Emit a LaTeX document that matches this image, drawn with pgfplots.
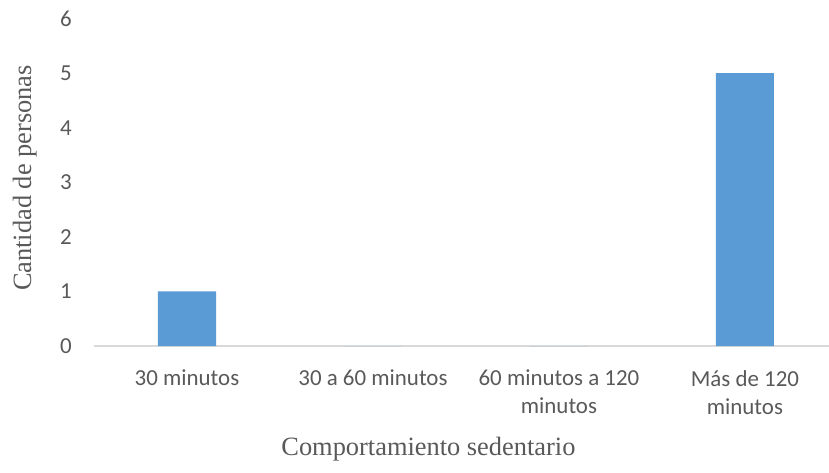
\documentclass[border=0pt]{standalone}
\usepackage{pgfplots}
\pgfplotsset{compat=1.18}
\usepackage{fontspec}
\setmainfont{Liberation Serif}
\newfontfamily\tickfont{Carlito}
\definecolor{barblue}{HTML}{5B9BD5}
\definecolor{textgray}{HTML}{595959}
\definecolor{axisgray}{HTML}{D9D9D9}
\begin{document}
\begin{tikzpicture}
\useasboundingbox (-94bp,-127bp) rectangle (735bp,346bp);
\begin{axis}[
  at={(0,0)}, anchor=south west,
  scale only axis,
  width=735bp, height=327.4bp,
  xmin=-0.5, xmax=3.452,
  ymin=0, ymax=6,
  ytick={0,1,...,6},
  xtick={0,1,2,3},
  xticklabels={30 minutos, 30 a 60 minutos, {60 minutos a 120\\minutos}, {Más de 120\\minutos}},
  axis line style={draw=none},
  major tick length=0pt,
  /pgf/number format/assume math mode=true,
  tick label style={font=\tickfont\fontsize{23}{28}\selectfont, text=textgray},
  yticklabel style={anchor=east, inner sep=0pt, xshift=-22bp},
  xticklabel style={anchor=north, inner sep=0pt, align=center, yshift=-24bp},
  ylabel={Cantidad de personas},
  xlabel={Comportamiento sedentario},
  label style={font=\fontsize{26.5}{30}\selectfont, text=textgray},
  ylabel style={at={(axis description cs:-0.0857,0.513)}, anchor=base, rotate=0},
  xlabel style={at={(axis description cs:0.455,-0.333)}, anchor=base},
  ybar, bar width=0.312,
  clip=false,
]
\draw[axisgray, line width=1.2bp] (axis cs:-0.5,0) -- (axis cs:3.452,0);
\addplot[fill=barblue, draw=none] coordinates {(0,1) (1,0) (2,0) (3,5)};
\end{axis}
\end{tikzpicture}
\end{document}
